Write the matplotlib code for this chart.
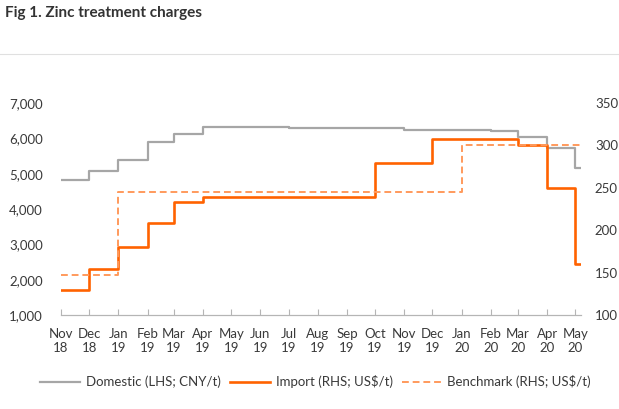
import pandas as pd
import matplotlib.pyplot as plt
import matplotlib.dates as mdates
from matplotlib.lines import Line2D
from matplotlib.ticker import FuncFormatter, MultipleLocator

plt.rcParams['font.family'] = ['Lato', 'DejaVu Sans']

# monthly series, Nov 2018 .. May 2020 (value holds from the start of each month)
months = pd.date_range('2018-11-01', '2020-05-01', freq='MS')
domestic = [4820, 5070, 5390, 5890, 6120, 6330, 6330, 6330, 6300, 6300, 6300, 6300,
            6250, 6250, 6250, 6220, 6050, 5730, 5170]
imports = [130, 154, 180, 208, 233, 239, 239, 239, 239, 239, 239, 279,
           279, 308, 308, 308, 300, 250, 160]
benchmark = [147, 147, 245, 245, 245, 245, 245, 245, 245, 245, 245, 245,
             245, 245, 300, 300, 300, 300, 300]
last_day = pd.Timestamp('2020-05-07')

tick_labels = [d.strftime('%b\n%y') for d in months]

grey = '#a6a6a6'
orange = '#ff6200'
light_orange = '#ff9a5c'
txt = '#3a3a3a'

fig = plt.figure(figsize=(6.19, 4.09), dpi=100)
ax = fig.add_axes([61/619, 1-315/409, (581-61)/619, (315-103)/409])
ax2 = ax.twinx()

x = list(months) + [last_day]
ax.plot(x, domestic + [domestic[-1]], drawstyle='steps-post', color=grey, lw=1.6)
ax2.plot(x, imports + [imports[-1]], drawstyle='steps-post', color=orange, lw=1.9)
ax2.plot(x, benchmark + [benchmark[-1]], drawstyle='steps-post', color=light_orange,
         lw=1.4, ls=(0, (3.5, 2)))

ax.set_xlim(months[0], last_day)
ax.set_ylim(1000, 7000)
ax2.set_ylim(100, 350)
ax.yaxis.set_major_locator(MultipleLocator(1000))
ax.yaxis.set_major_formatter(FuncFormatter(lambda v, p: f'{int(v):,}'))
ax2.yaxis.set_major_locator(MultipleLocator(50))

ax.set_xticks(months)
ax.set_xticklabels(tick_labels)

for a in (ax, ax2):
    for s in ('top', 'left', 'right'):
        a.spines[s].set_visible(False)
    a.spines['bottom'].set_color('#b5b5b5')
    a.tick_params(axis='y', length=0, labelsize=9.5, labelcolor=txt)
ax.tick_params(axis='y', pad=13)
ax2.tick_params(axis='y', pad=10)
ax.tick_params(axis='x', direction='in', length=4, color='#b5b5b5',
               labelsize=9.5, labelcolor=txt, pad=9)

handles = [Line2D([], [], color=grey, lw=1.6),
           Line2D([], [], color=orange, lw=1.9),
           Line2D([], [], color=light_orange, lw=1.4, ls=(0, (3.5, 2)))]
labels = ['Domestic (LHS; CNY/t)', 'Import (RHS; US$/t)', 'Benchmark (RHS; US$/t)']
fig.legend(handles, labels, loc='center', bbox_to_anchor=(0.51, 1-382/409), ncol=3,
           frameon=False, fontsize=9.5, labelcolor=txt, handlelength=3.0,
           handletextpad=0.45, columnspacing=0.7)

fig.text(5/619, 1-13/409, 'Fig 1. Zinc treatment charges', fontsize=11,
         fontweight='bold', color='#333333', va='center', ha='left')
fig.add_artist(Line2D([0, 1], [1-54/409, 1-54/409], color='#e0e0e0', lw=0.8))

fig.savefig('out.png', dpi=100)
